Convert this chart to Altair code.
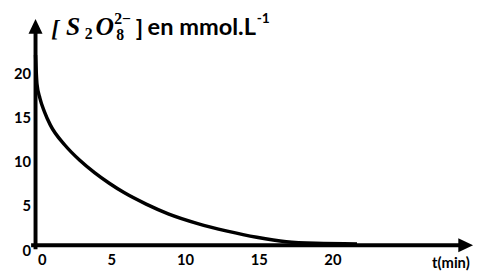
import altair as alt
import pandas as pd

# curve data
t_min = [0, 0.1, 0.3, 0.6, 1, 2, 3, 4, 5, 6, 7.5, 9, 11, 13, 15, 17, 19, 21.8]
conc = [21.5, 18.2, 16.6, 15.1, 13.6, 11.3, 9.6, 8.2, 7.0, 5.95, 4.65, 3.55, 2.45, 1.6, 0.9, 0.4, 0.22, 0.15]

x_ticks = [0, 5, 10, 15, 20]
y_ticks = [0, 5, 10, 15, 20]
x_title = "t(min)"

X_MAX = 28.667
Y_MAX = 25

xs = alt.Scale(domain=[0, X_MAX], nice=False, zero=False)
ys = alt.Scale(domain=[0, Y_MAX], nice=False, zero=False)

FONT = "Lato"

curve_df = pd.DataFrame({"t": t_min, "c": conc})

xaxis = alt.Axis(values=x_ticks, title=x_title, domain=False, ticks=False, tickSize=0, grid=False,
                 labelFont=FONT, labelFontWeight="bold", labelFontSize=15, labelColor="black",
                 labelPadding=8, labelOffset=2, titleFont=FONT, titleFontWeight="bold", titleFontSize=15,
                 titleColor="black", titleX=422, titleY=23, titleAlign="center",
                 titleBaseline="alphabetic")
yaxis = alt.Axis(values=y_ticks, title=None, domain=False, ticks=False, tickSize=0, grid=False,
                 labelFont=FONT, labelFontWeight="bold", labelFontSize=15, labelColor="black",
                 labelPadding=5, labelOffset=5)

line = alt.Chart(curve_df).mark_line(interpolate="monotone", color="black", strokeWidth=3.5).encode(
    x=alt.X("t:Q", scale=xs, axis=xaxis),
    y=alt.Y("c:Q", scale=ys, axis=yaxis),
)

# axis lines
xline_df = pd.DataFrame({"x1": [-0.3], "x2": [28.75], "y": [0]})
yline_df = pd.DataFrame({"x": [0], "y1": [-0.45], "y2": [24.0]})

xline = alt.Chart(xline_df).mark_rule(color="black", strokeWidth=4).encode(
    x=alt.X("x1:Q", scale=xs), x2="x2:Q", y=alt.Y("y:Q", scale=ys))
yline = alt.Chart(yline_df).mark_rule(color="black", strokeWidth=4).encode(
    x=alt.X("x:Q", scale=xs), y=alt.Y("y1:Q", scale=ys), y2="y2:Q")

xarrow = alt.Chart(pd.DataFrame({"x": [29.17], "y": [0]})).mark_point(
    shape="M-1,-0.95L1,0L-1,0.95Z", size=225, filled=True, color="black", opacity=1).encode(
    x=alt.X("x:Q", scale=xs), y=alt.Y("y:Q", scale=ys))
yarrow = alt.Chart(pd.DataFrame({"x": [0], "y": [24.72]})).mark_point(
    shape="M-0.95,1L0,-1L0.95,1Z", size=225, filled=True, color="black", opacity=1).encode(
    x=alt.X("x:Q", scale=xs), y=alt.Y("y:Q", scale=ys))

one = pd.DataFrame({"k": [0]})

def txt(s, px, py, size, font=FONT, style="normal", weight="bold"):
    return alt.Chart(one).mark_text(text=s, align="left", baseline="alphabetic", font=font,
                                    fontSize=size, fontStyle=style, fontWeight=weight,
                                    color="black").encode(
        x=alt.value(px - 36), y=alt.value(py - 22))

SERIF = "Liberation Serif"
title_parts = [
    txt("[", 52, 34, 24, SERIF, "italic"),
    txt("S", 67, 33, 26, SERIF, "italic"),
    txt("2", 86, 37, 16, SERIF, "normal"),
    txt("O", 97, 33, 26, SERIF, "italic"),
    txt("2−", 116, 22, 16, SERIF, "normal"),
    txt("8", 118, 38, 16, SERIF, "normal"),
    txt("]", 138, 34, 24),
    txt("en mmol.L", 150, 33, 24),
    txt("-1", 261, 21, 14),
]

chart = alt.layer(line, xline, yline, xarrow, yarrow, *title_parts).properties(
    width=430, height=225,
    autosize=alt.AutoSizeParams(type="none"),
    padding={"left": 28, "top": 14, "right": 16, "bottom": 28},
).configure_view(stroke=None)

chart.save("out.html", embed_options={"renderer": "svg", "actions": False})
